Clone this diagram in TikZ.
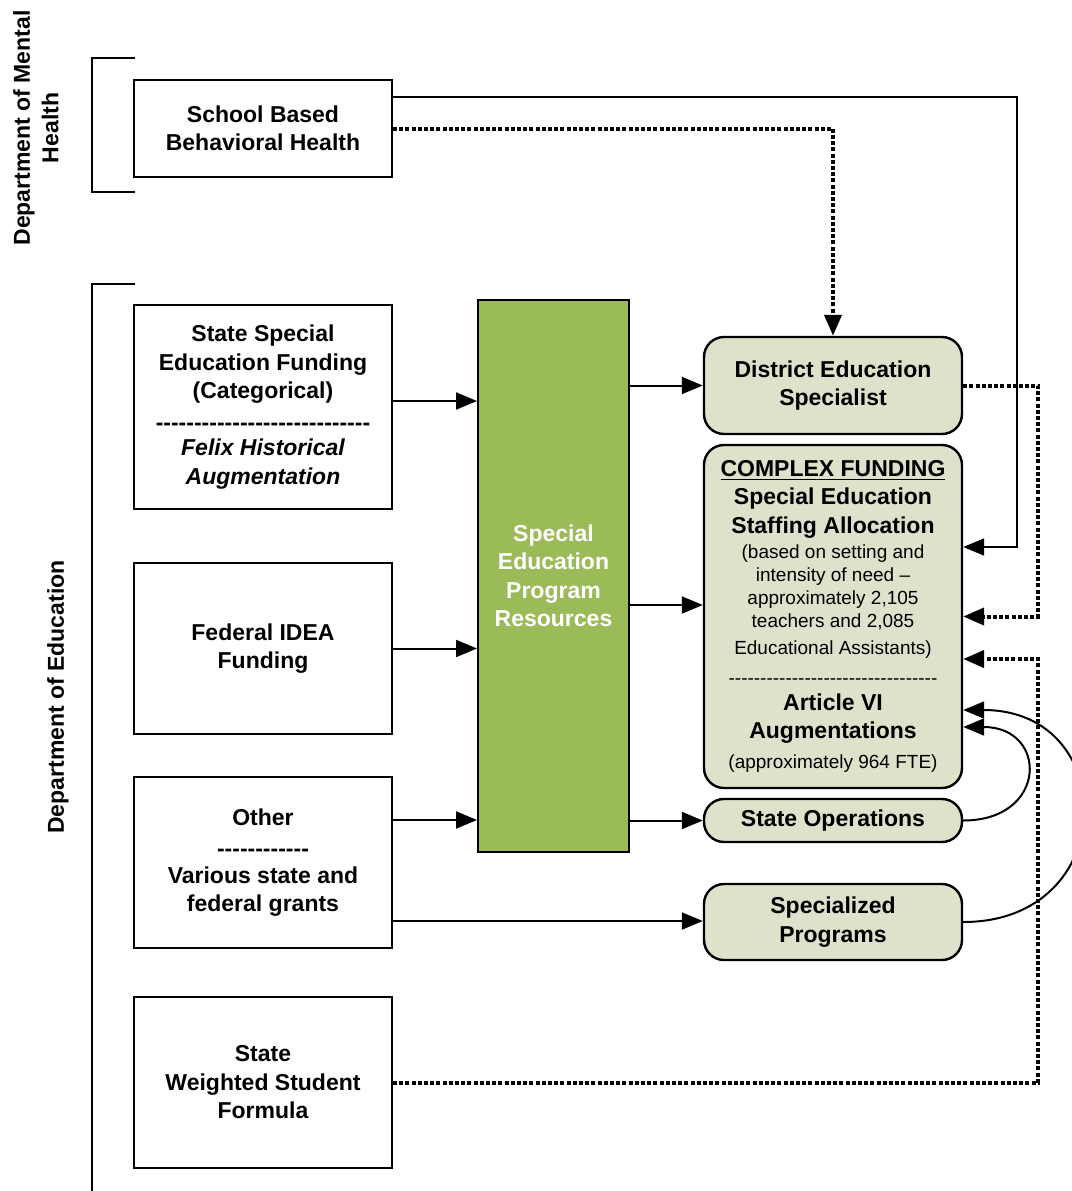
\documentclass[tikz,border=0pt]{standalone}
\usepackage{xcolor}
\usepackage{fontspec}
\setmainfont{Liberation Sans}[Ligatures=TeXOff]
\definecolor{sedgreen}{RGB}{155, 187, 89}
\definecolor{sedpale}{RGB}{221, 226, 203}
\usepackage{tikz}
\usetikzlibrary{arrows.meta}
\newcommand{\smalltxt}{\mdseries\fontsize{9.5}{11.5}\selectfont}
\tikzset{
  srcbox/.style={
    draw=black,
    line width=1pt,
    inner sep=0pt,
    minimum width=129pt,
    align=center,
    font=\bfseries\fontsize{11.5}{14.25}\selectfont
  },
  resbox/.style={
    srcbox,
    fill=sedgreen,
    text=white,
    minimum width=75.5pt,
    minimum height=276pt
  },
  outbox/.style={
    srcbox,
    fill=sedpale,
    line width=1.2pt,
    rounded corners=10pt
  },
  deptlabel/.style={
    rotate=90,
    align=center,
    font=\bfseries\fontsize{11.5}{14.25}\selectfont
  },
  arr/.style={
    line width=1pt,
    -{Triangle[length=10.5pt,width=8.5pt]}
  },
  dotarr/.style={
    arr,
    line width=2pt,
    dash pattern=on 2pt off 1.1pt
  }
}

\begin{document}
\begin{tikzpicture}[x=0.5pt, y=-0.5pt]
    \useasboundingbox (0,0) rectangle (1072,1191);

    % department brackets
    \node[deptlabel] (dmh) at (36,128) {Department of Mental\\Health};
    \node[deptlabel] (doe) at (58,697) {Department of Education};
    \draw[line width=1pt] (135,58) -- (92,58) -- (92,192) -- (135,192);
    \draw[line width=1pt] (135,284) -- (92,284) -- (92,1195);

    % funding sources
    \node[srcbox, minimum height=48.5pt] (sbbh) at (263,128.5)
      {School Based\\Behavioral Health};
    \node[srcbox, minimum height=102pt] (ssef) at (263,407)
      {State Special\\Education Funding\\(Categorical)\\[1.75pt]
       ----------------------------\\[-1.75pt]
       \itshape Felix Historical\\\itshape Augmentation};
    \node[srcbox, minimum height=85.5pt] (idea) at (263,648.5)
      {Federal IDEA\\Funding};
    \node[srcbox, minimum height=85.5pt] (other) at (263,862.5)
      {Other\\[1.25pt]------------\\[-0.75pt]Various state and\\federal grants};
    \node[srcbox, minimum height=85.5pt] (swsf) at (263,1082.5)
      {State\\Weighted Student\\Formula};

    \node[resbox] (res) at (553.5,576)
      {Special\\Education\\Program\\Resources};

    % uses
    \node[outbox, minimum height=48.5pt] (des) at (833,385.5)
      {District Education\\Specialist};
    \node[outbox, minimum height=171.5pt] (cf) at (833,616.5)
      {\underline{COMPLEX FUNDING}\\
       Special Education\\
       Staffing Allocation\\[-1.75pt]
       \smalltxt (based on setting and\\[-2.75pt]
       \smalltxt intensity of need –\\[-2.75pt]
       \smalltxt approximately 2,105\\[-2.75pt]
       \smalltxt teachers and 2,085\\[-0.75pt]
       \smalltxt Educational Assistants)\\[0.75pt]
       \smalltxt ---------------------------------\\[-1.25pt]
       Article VI\\
       Augmentations\\[0.75pt]
       \smalltxt (approximately 964 FTE)};
    \node[outbox, minimum height=21.5pt] (so) at (833,820.5)
      {State Operations};
    \node[outbox, minimum height=38pt] (sp) at (833,922)
      {Specialized\\Programs};

    \coordinate (ssefout) at ([yshift=3pt]ssef.east);
    \coordinate (otherup) at ([yshift=21.25pt]other.east);
    \coordinate (otherdown) at ([yshift=-29.25pt]other.east);
    \coordinate (sbbhtop) at ([yshift=15.75pt]sbbh.east);
    \coordinate (cfin) at ([yshift=5.75pt]cf.west);
    \coordinate (cfsolid) at ([yshift=34.75pt]cf.east);
    \coordinate (cfdes) at (cf.east);
    \coordinate (cfswsf) at ([yshift=-21.25pt]cf.east);
    \coordinate (cfsp) at ([yshift=-46.75pt]cf.east);
    \coordinate (cfso) at ([yshift=-55.25pt]cf.east);

    \draw[arr] (ssefout) -- (ssefout -| res.west);
    \draw[arr] (idea.east) -- (idea.east -| res.west);
    \draw[arr] (otherup) -- (otherup -| res.west);
    \draw[arr] (otherdown) -- (otherdown -| sp.west);
    \draw[arr] (des.west -| res.east) -- (des.west);
    \draw[arr] (cfin -| res.east) -- (cfin);
    \draw[arr] (so.west -| res.east) -- (so.west);

    \draw[arr] (sbbhtop) -- ++(624,0) |- (cfsolid);
    \draw[dotarr] (sbbh.east) -| (des.north);
    \draw[dotarr] (des.east) -- ++(75,0) |- (cfdes);
    \draw[dotarr] (swsf.east) -- ++(645,0) |- (cfswsf);

    \draw[arr] (so.east) .. controls +(85,0) and +(85,0) .. (cfso);
    \draw[arr] (sp.east) .. controls +(158,0) and +(158,0) .. (cfsp);
  \end{tikzpicture}
\end{document}
